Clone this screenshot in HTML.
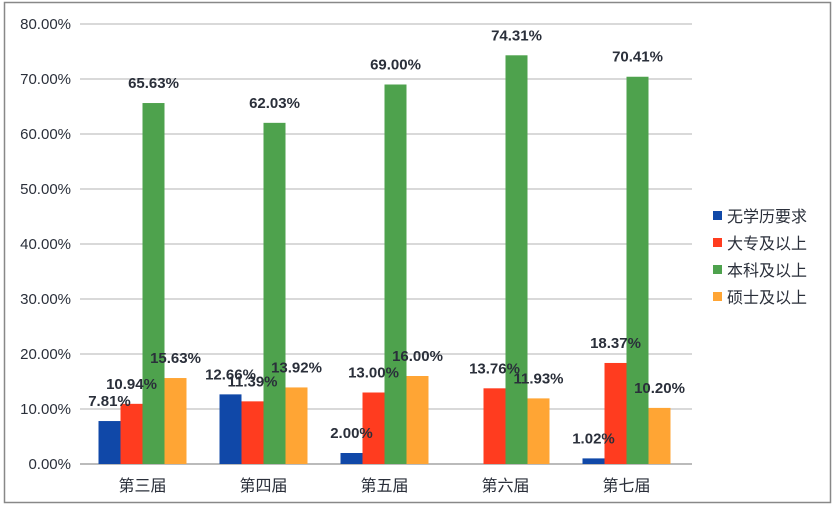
<!DOCTYPE html>
<html><head><meta charset="utf-8"><style>
body{margin:0;background:#fff;}
svg{display:block;font-family:"Liberation Sans","Noto Sans CJK SC",sans-serif;}
</style></head><body>
<svg id="chart" width="836" height="507" viewBox="0 0 836 507">
<rect x="4.5" y="2.5" width="826" height="500" fill="#fff" stroke="#888" stroke-width="1.5"/>
<g id="grid"></g><g id="bars"></g><g id="labels"></g><g id="legend"></g>
</svg>
<script>
const categories=["第三届","第四届","第五届","第六届","第七届"];
const seriesNames=["无学历要求","大专及以上","本科及以上","硕士及以上"];
const s0=[7.81,12.66,2.00,0,1.02];
const s1=[10.94,11.39,13.00,13.76,18.37];
const s2=[65.63,62.03,69.00,74.31,70.41];
const s3=[15.63,13.92,16.00,11.93,10.20];
const yTicks=[0,10,20,30,40,50,60,70,80];
const series=[s0,s1,s2,s3];
const colors=["#1048a8","#ff3c1f","#4ea24d","#ffa534"];
const NS="http://www.w3.org/2000/svg";
const X0=82,PW=605,Y0=464,YT=24,YMAX=80;
const y=v=>Y0-(v/YMAX)*(Y0-YT);
const gw=PW/categories.length;
const cx=i=>X0+gw*(i+0.5);
const BW=22;
function mk(t,a,p){const e=document.createElementNS(NS,t);for(const k in a)e.setAttribute(k,a[k]);p.appendChild(e);return e;}
const grid=document.getElementById('grid');
yTicks.forEach(t=>{
 const l=mk('line',{x1:80,x2:692,y1:y(t),y2:y(t),stroke:t===0?'#bbb':'#d9d9d9','stroke-width':2},grid);
 
 
 const tx=mk('text',{x:71,y:y(t)+5,'text-anchor':'end','font-size':15,fill:'#2a2f3a'},grid);
 tx.textContent=t.toFixed(2)+'%';
 
 
});
categories.forEach((c,i)=>{
 const tx=mk('text',{x:cx(i),y:491,'text-anchor':'middle','font-size':16,fill:'#2a2f3a'},grid);
 tx.textContent=c;
 
 
});
const bars=document.getElementById('bars'),labels=document.getElementById('labels');
series.forEach((s,k)=>{
 s.forEach((v,i)=>{
  const bx=cx(i)-2*BW+k*BW;
  const r=mk('rect',{x:bx,y:y(v),width:BW,height:Y0-y(v),fill:colors[k]},bars);
  
  
  if(v>0){
   const tx=mk('text',{x:bx+BW/2,y:y(v)-15,'text-anchor':'middle','font-size':15,'font-weight':'bold',fill:'#2a2f3a'},labels);
   tx.textContent=v.toFixed(2)+'%';
   
   
  }
 });
});
const lg=document.getElementById('legend');
seriesNames.forEach((n,k)=>{
 const yy=216+k*27;
 const sq=mk('rect',{x:713,y:yy-5,width:9,height:9,fill:colors[k]},lg);
 
 
 const tx=mk('text',{x:727,y:yy+6,'font-size':16,fill:'#2a2f3a'},lg);
 tx.textContent=n;
 
 
});
</script>
</body></html>
